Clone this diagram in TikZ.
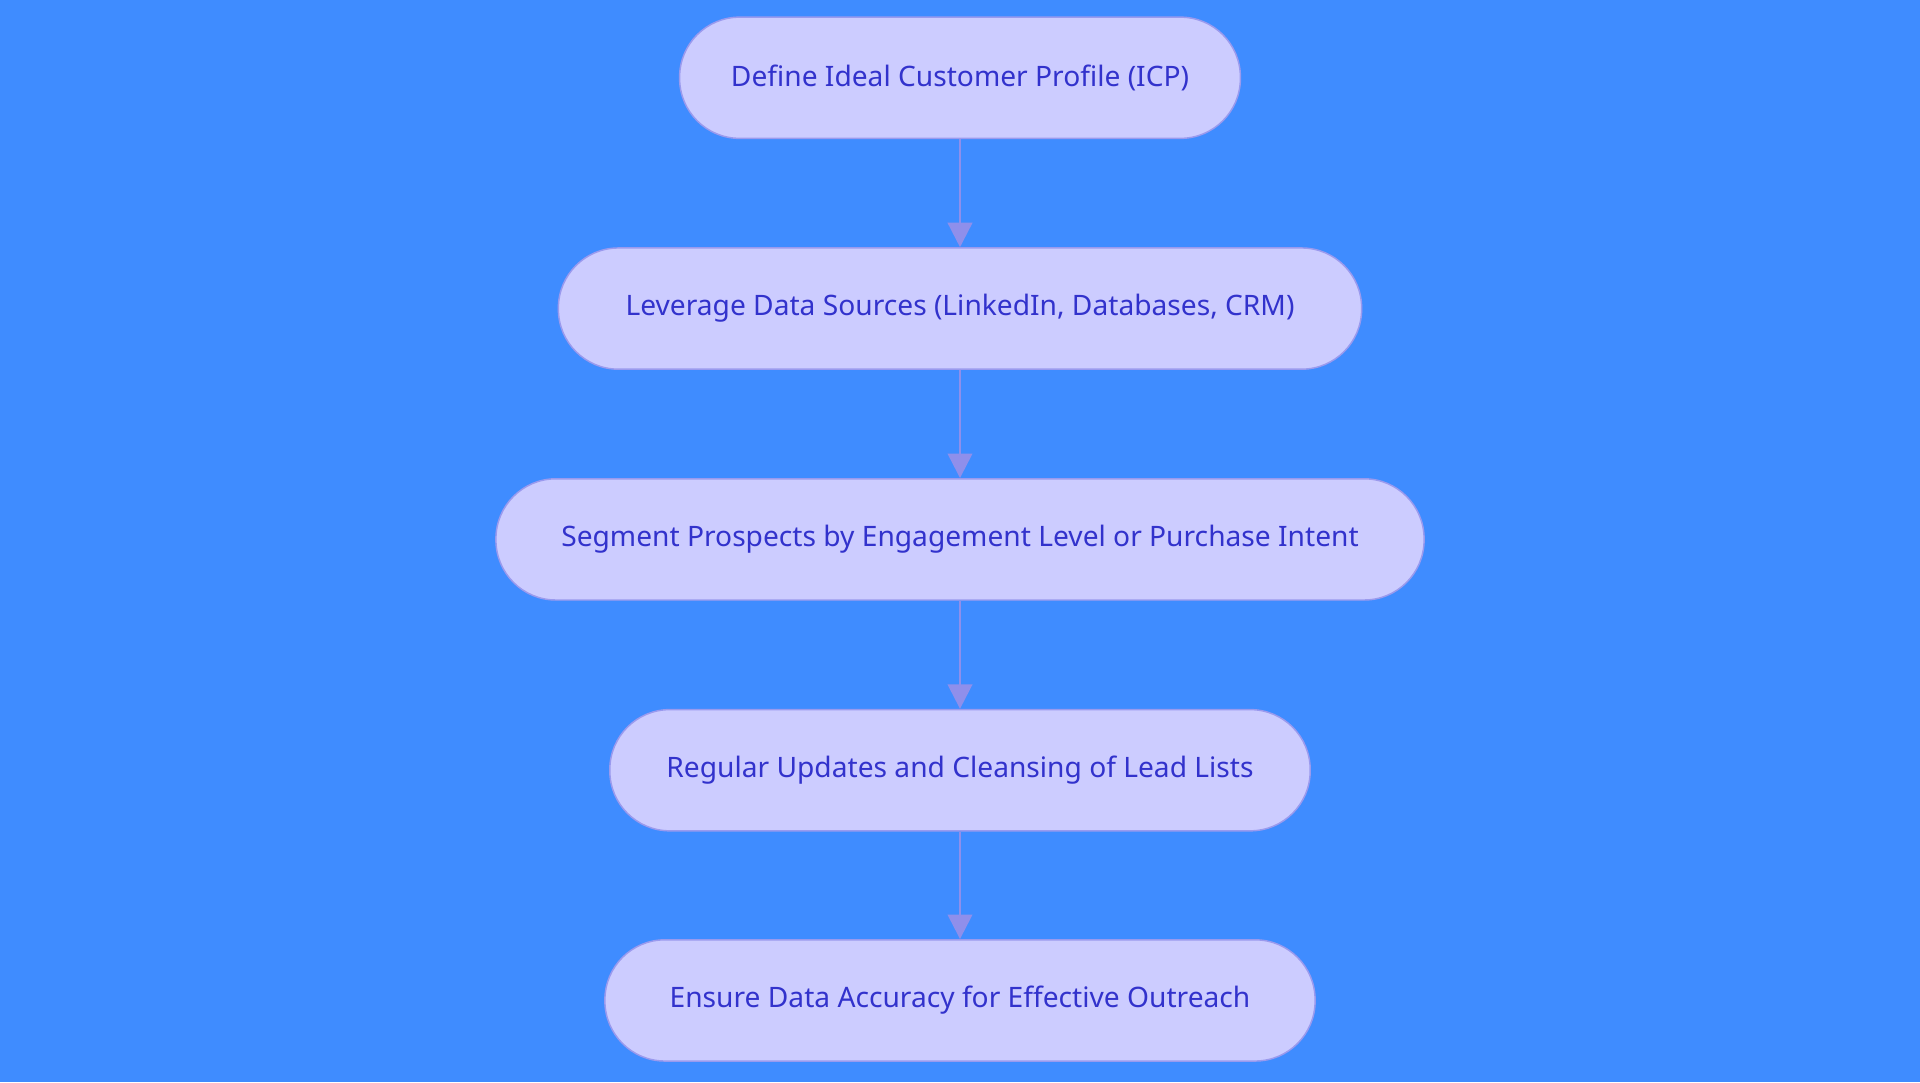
\documentclass[tikz,border=0pt]{standalone}
\usepackage{fontspec}
\setmainfont{Noto Sans}
\usetikzlibrary{arrows.meta}
\definecolor{bg}{HTML}{3F8CFF}
\definecolor{nfill}{HTML}{CCCCFF}
\definecolor{nline}{HTML}{9A9AEE}
\definecolor{ntext}{HTML}{3232CC}
\definecolor{arr}{HTML}{8F8FEB}
\begin{document}
\begin{tikzpicture}[x=1pt,y=-1pt,
  box/.style={draw=nline,line width=1.2pt,fill=nfill,rounded corners=49pt,minimum height=99pt,inner sep=0pt,text=ntext,font=\fontsize{23}{28}\selectfont},
  link/.style={draw=arr,line width=2pt,-{Triangle[length=20pt,width=20pt]}}]
\fill[bg] (0,0) rectangle (1568,884);
\node[box,minimum width=458pt] (a) at (784,63.5) {Define Ideal Customer Profile (ICP)};
\node[box,minimum width=656pt] (b) at (784,252) {Leverage Data Sources (LinkedIn, Databases, CRM)};
\node[box,minimum width=758pt] (c) at (784,440.5) {Segment Prospects by Engagement Level or Purchase Intent};
\node[box,minimum width=572pt] (d) at (784,629) {Regular Updates and Cleansing of Lead Lists};
\node[box,minimum width=580pt] (e) at (784,817) {Ensure Data Accuracy for Effective Outreach};
\draw[link] (a) -- (b);
\draw[link] (b) -- (c);
\draw[link] (c) -- (d);
\draw[link] (d) -- (e);
\end{tikzpicture}
\end{document}
